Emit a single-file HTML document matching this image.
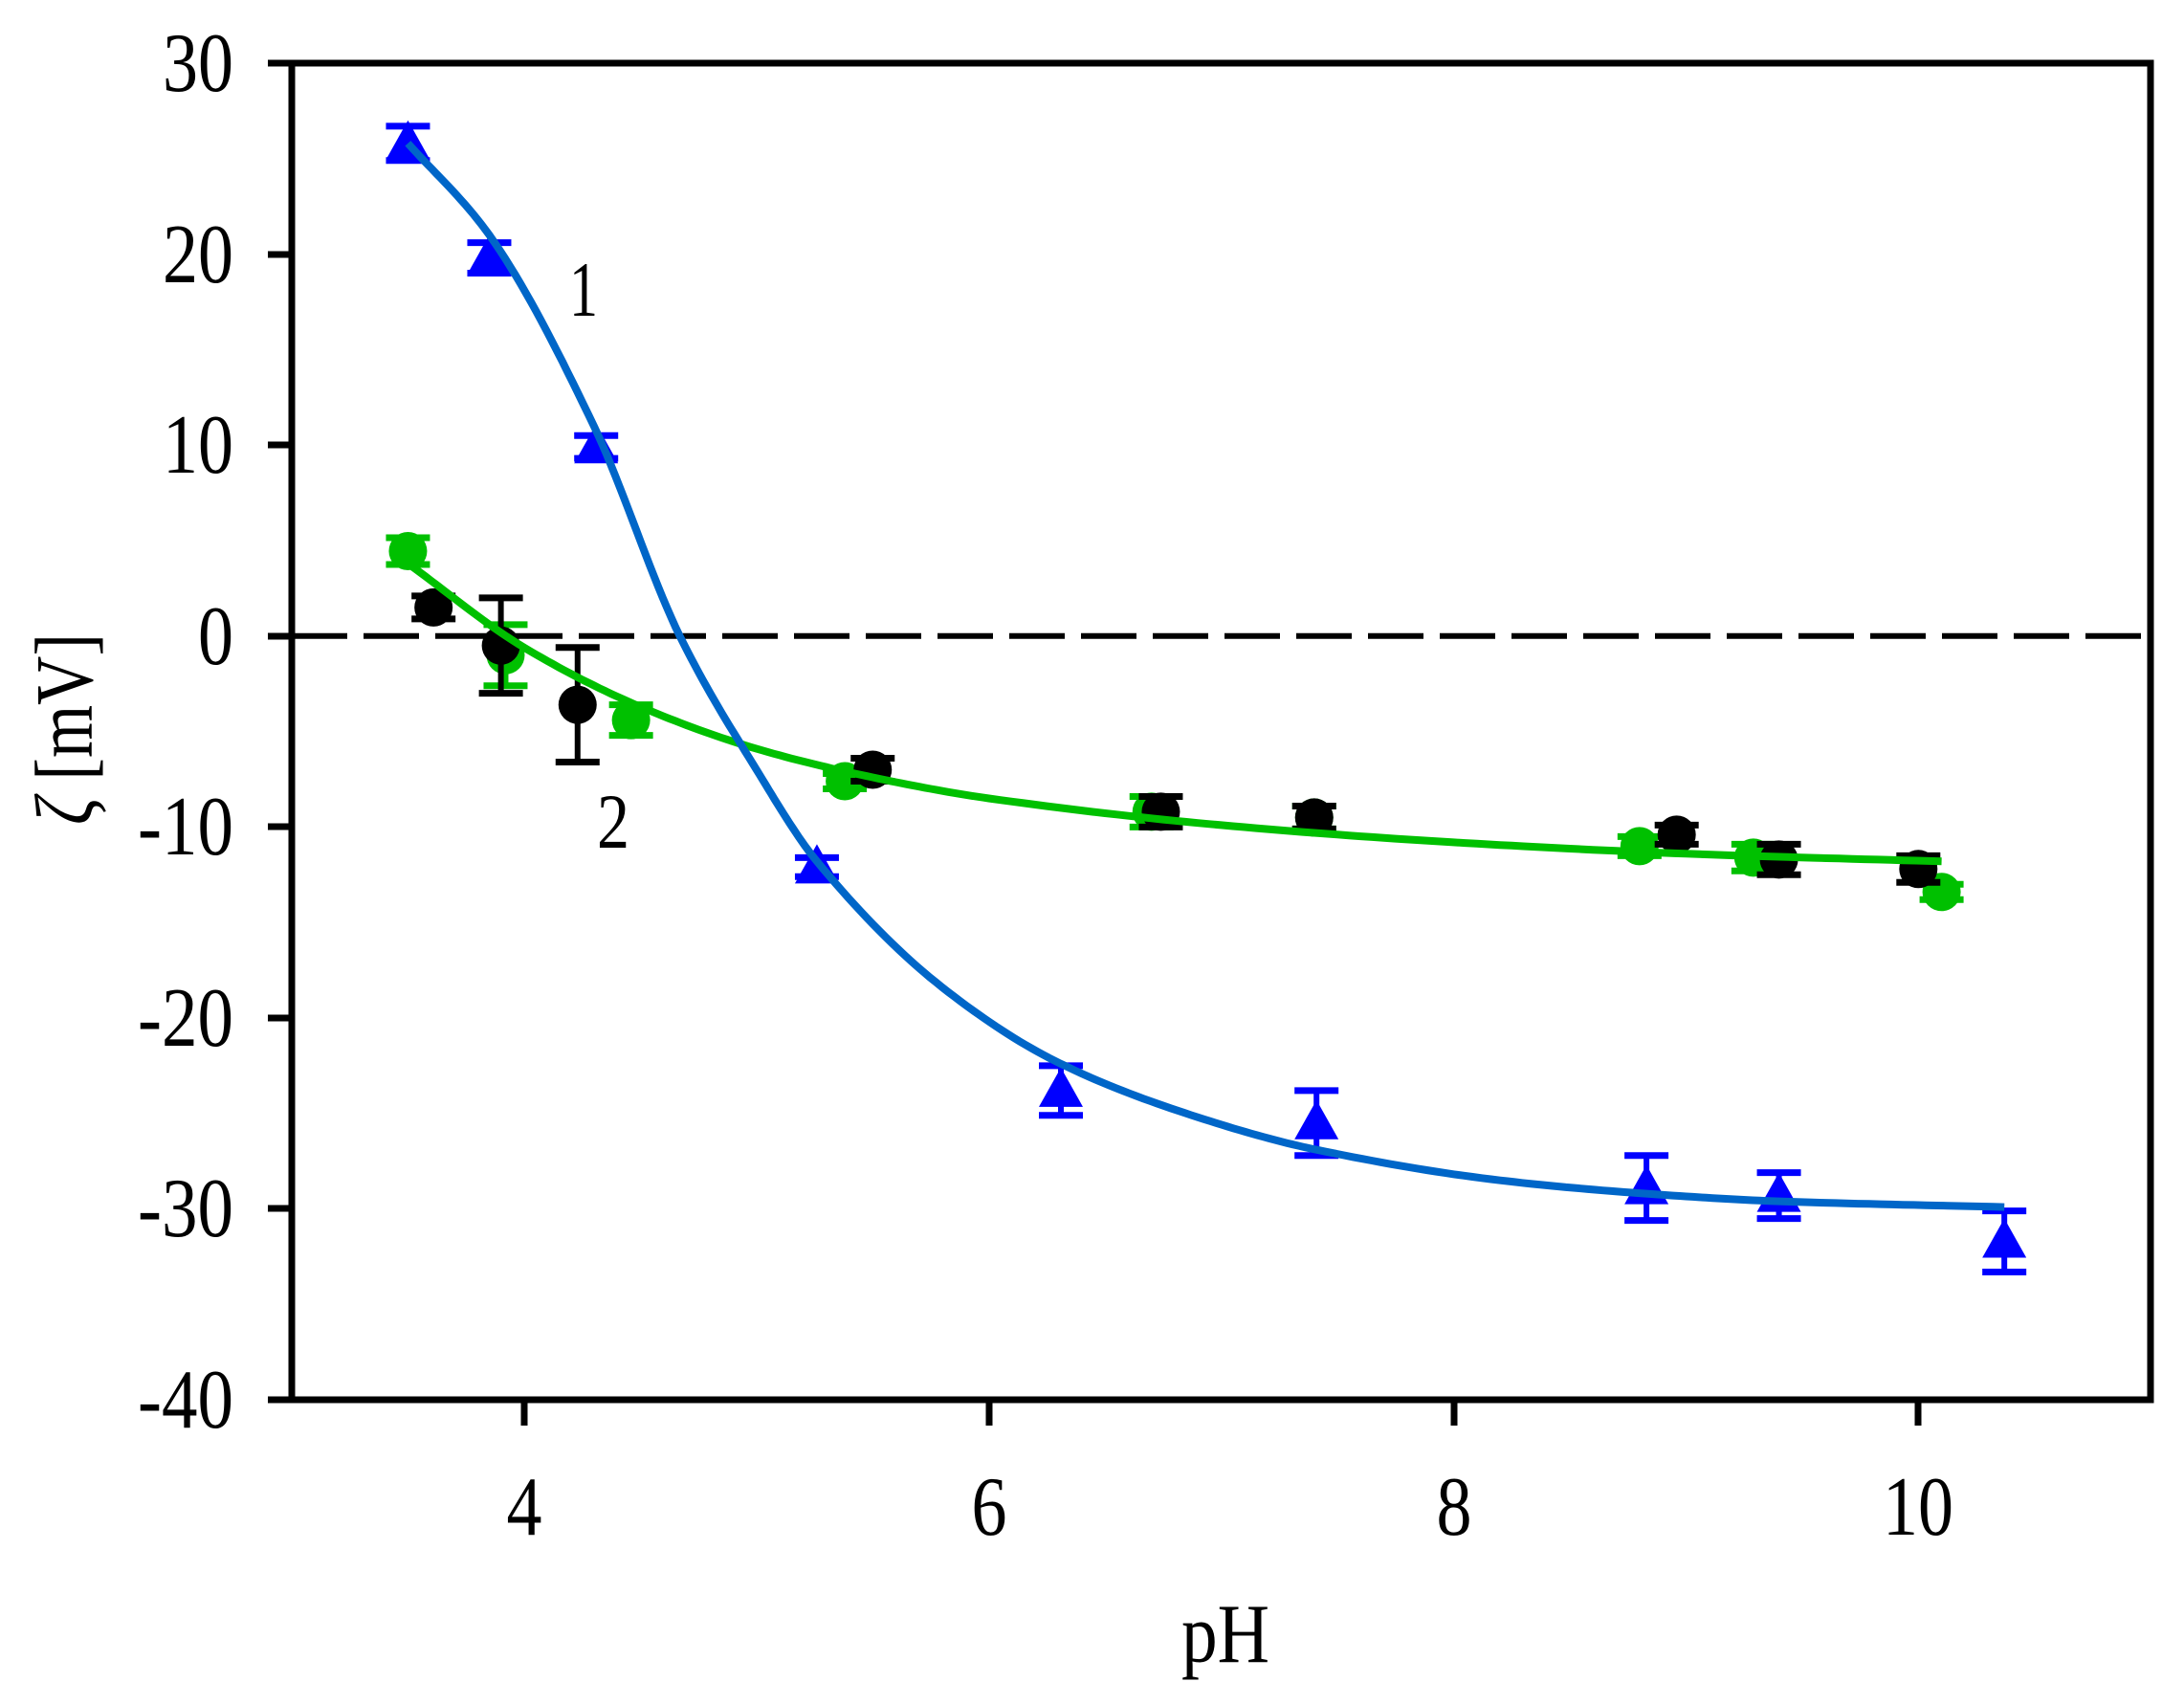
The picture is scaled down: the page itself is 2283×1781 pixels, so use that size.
<!DOCTYPE html>
<html><head><meta charset="utf-8"><style>
html,body{margin:0;padding:0;background:#fff;}
svg{display:block;}
text{font-family:"Liberation Serif","Times New Roman",serif;fill:#000;}
</style></head><body>
<svg id="s" width="2283" height="1781" viewBox="0 0 2283 1781" xmlns="http://www.w3.org/2000/svg">
<rect width="2283" height="1781" fill="#fff"/>
<g id="plot"></g>
<rect x="305" y="66" width="1943" height="1397" fill="none" stroke="#000" stroke-width="7"/>
<g stroke="#000" stroke-width="7">
<line x1="280" y1="66" x2="305" y2="66"/><line x1="280" y1="266" x2="305" y2="266"/>
<line x1="280" y1="465" x2="305" y2="465"/><line x1="280" y1="665" x2="305" y2="665"/>
<line x1="280" y1="864" x2="305" y2="864"/><line x1="280" y1="1064" x2="305" y2="1064"/>
<line x1="280" y1="1263" x2="305" y2="1263"/><line x1="280" y1="1463" x2="305" y2="1463"/>
<line x1="548" y1="1463" x2="548" y2="1490"/><line x1="1034" y1="1463" x2="1034" y2="1490"/>
<line x1="1520" y1="1463" x2="1520" y2="1490"/><line x1="2005" y1="1463" x2="2005" y2="1490"/>
</g>
<g font-size="88" text-anchor="end">
<text x="244" y="95" textLength="74" lengthAdjust="spacingAndGlyphs">30</text>
<text x="244" y="295" textLength="74" lengthAdjust="spacingAndGlyphs">20</text>
<text x="244" y="494" textLength="74" lengthAdjust="spacingAndGlyphs">10</text>
<text x="244" y="694" textLength="37" lengthAdjust="spacingAndGlyphs">0</text>
<text x="244" y="893" textLength="100" lengthAdjust="spacingAndGlyphs">-10</text>
<text x="244" y="1093" textLength="100" lengthAdjust="spacingAndGlyphs">-20</text>
<text x="244" y="1292" textLength="100" lengthAdjust="spacingAndGlyphs">-30</text>
<text x="244" y="1492" textLength="100" lengthAdjust="spacingAndGlyphs">-40</text>
</g>
<g font-size="88" text-anchor="middle">
<text x="548" y="1604" textLength="37" lengthAdjust="spacingAndGlyphs">4</text>
<text x="1034" y="1604" textLength="37" lengthAdjust="spacingAndGlyphs">6</text>
<text x="1520" y="1604" textLength="37" lengthAdjust="spacingAndGlyphs">8</text>
<text x="2005" y="1604" textLength="74" lengthAdjust="spacingAndGlyphs">10</text>
<text x="1281" y="1737" textLength="92" lengthAdjust="spacingAndGlyphs">pH</text>
</g>
<text x="610" y="330" font-size="82" text-anchor="middle" textLength="30" lengthAdjust="spacingAndGlyphs">1</text>
<text x="641" y="886" font-size="82" text-anchor="middle" textLength="34" lengthAdjust="spacingAndGlyphs">2</text>
<text transform="translate(96,762) rotate(-90)" font-size="86" text-anchor="middle" textLength="200" lengthAdjust="spacingAndGlyphs"><tspan font-style="italic">ζ</tspan> [mV]</text>
</svg>
<script>
var X=function(p){return 305+(p-3)*242.9;}, Y=function(v){return 66+(30-v)*19.96;};
var g=document.getElementById('plot'), NS='http://www.w3.org/2000/svg';
function el(t,a){var e=document.createElementNS(NS,t);for(var k in a)e.setAttribute(k,a[k]);g.appendChild(e);return e;}
function mono(pts){var n=pts.length,x=pts.map(function(q){return q[0]}),y=pts.map(function(q){return q[1]});
var d=[],m=[];for(var i=0;i<n-1;i++)d.push((y[i+1]-y[i])/(x[i+1]-x[i]));
m[0]=d[0];m[n-1]=d[n-2];for(i=1;i<n-1;i++){m[i]=(d[i-1]*d[i]<=0)?0:2/(1/d[i-1]+1/d[i]);}
var s='';for(i=0;i<n-1;i++){var h=x[i+1]-x[i];for(var t=0;t<=20;t++){var u=t/20,h00=2*u*u*u-3*u*u+1,h10=u*u*u-2*u*u+u,h01=-2*u*u*u+3*u*u,h11=u*u*u-u*u;
var v=h00*y[i]+h10*h*m[i]+h01*y[i+1]+h11*h*m[i+1];var px=x[i]+u*h;s+=(s?'L':'M')+X(px).toFixed(1)+','+Y(v).toFixed(1);}}return s;}
el('line',{x1:305,y1:Y(0),x2:2248,y2:Y(0),stroke:'#000','stroke-width':6,'stroke-dasharray':'58 17'});
function eb(p,v,e,c){var x=X(p);el('line',{x1:x,y1:Y(v+e),x2:x,y2:Y(v-e),stroke:c,'stroke-width':6});
el('line',{x1:x-23,y1:Y(v+e),x2:x+23,y2:Y(v+e),stroke:c,'stroke-width':7});el('line',{x1:x-23,y1:Y(v-e),x2:x+23,y2:Y(v-e),stroke:c,'stroke-width':7});}
function tri(p,v){var x=X(p),y=Y(v);el('polygon',{points:(x)+','+(y-24)+' '+(x-23)+','+(y+17)+' '+(x+23)+','+(y+17),fill:'#0000ff'});}
function circ(p,v,c){el('circle',{cx:X(p),cy:Y(v),r:20,fill:c});}
var K=[[3.61,1.5,0.6],[3.90,-0.5,2.5],[4.23,-3.6,3.0],[5.50,-7.0,0.6],[6.74,-9.2,0.8],[7.40,-9.5,0.6],[8.96,-10.4,0.5],[9.40,-11.7,0.8],[10.0,-12.2,0.7]];
var G=[[3.5,4.45,0.7],[3.92,-1.0,1.6],[4.46,-4.4,0.8],[5.38,-7.6,0.4],[6.70,-9.2,0.8],[7.40,-9.5,0.6],[8.80,-11.0,0.5],[9.29,-11.6,0.7],[10.10,-13.4,0.4]];
var B=[[3.50,25.8,0.9],[3.85,19.8,0.8],[4.31,9.9,0.6],[5.26,-12.1,0.5],[6.31,-23.8,1.3],[7.41,-25.5,1.7],[8.83,-28.9,1.7],[9.40,-29.3,1.2],[10.37,-31.7,1.6]];
G.forEach(function(d){eb(d[0],d[1],d[2],'#00c000');circ(d[0],d[1],'#00c000');});
K.forEach(function(d){eb(d[0],d[1],d[2],'#000');circ(d[0],d[1],'#000');});
B.forEach(function(d){eb(d[0],d[1],d[2],'#0000ff');tri(d[0],d[1]);});
el('path',{d:mono([[3.5,3.8],[4,-0.6],[4.5,-3.7],[5,-5.9],[5.5,-7.4],[6,-8.5],[7,-9.9],[8,-10.8],[9,-11.4],[10.1,-11.8]]),fill:'none',stroke:'#00c000','stroke-width':8});
el('path',{d:mono([[3.5,25.8],[3.85,21.0],[4.3,11.0],[4.67,0],[5.0,-7.0],[5.26,-11.8],[5.8,-18.4],[6.31,-22.4],[6.9,-25.2],[7.41,-26.9],[8.2,-28.5],[8.83,-29.2],[9.4,-29.6],[10.37,-29.9]]),fill:'none',stroke:'#0066c8','stroke-width':8});
</script>
</body></html>
